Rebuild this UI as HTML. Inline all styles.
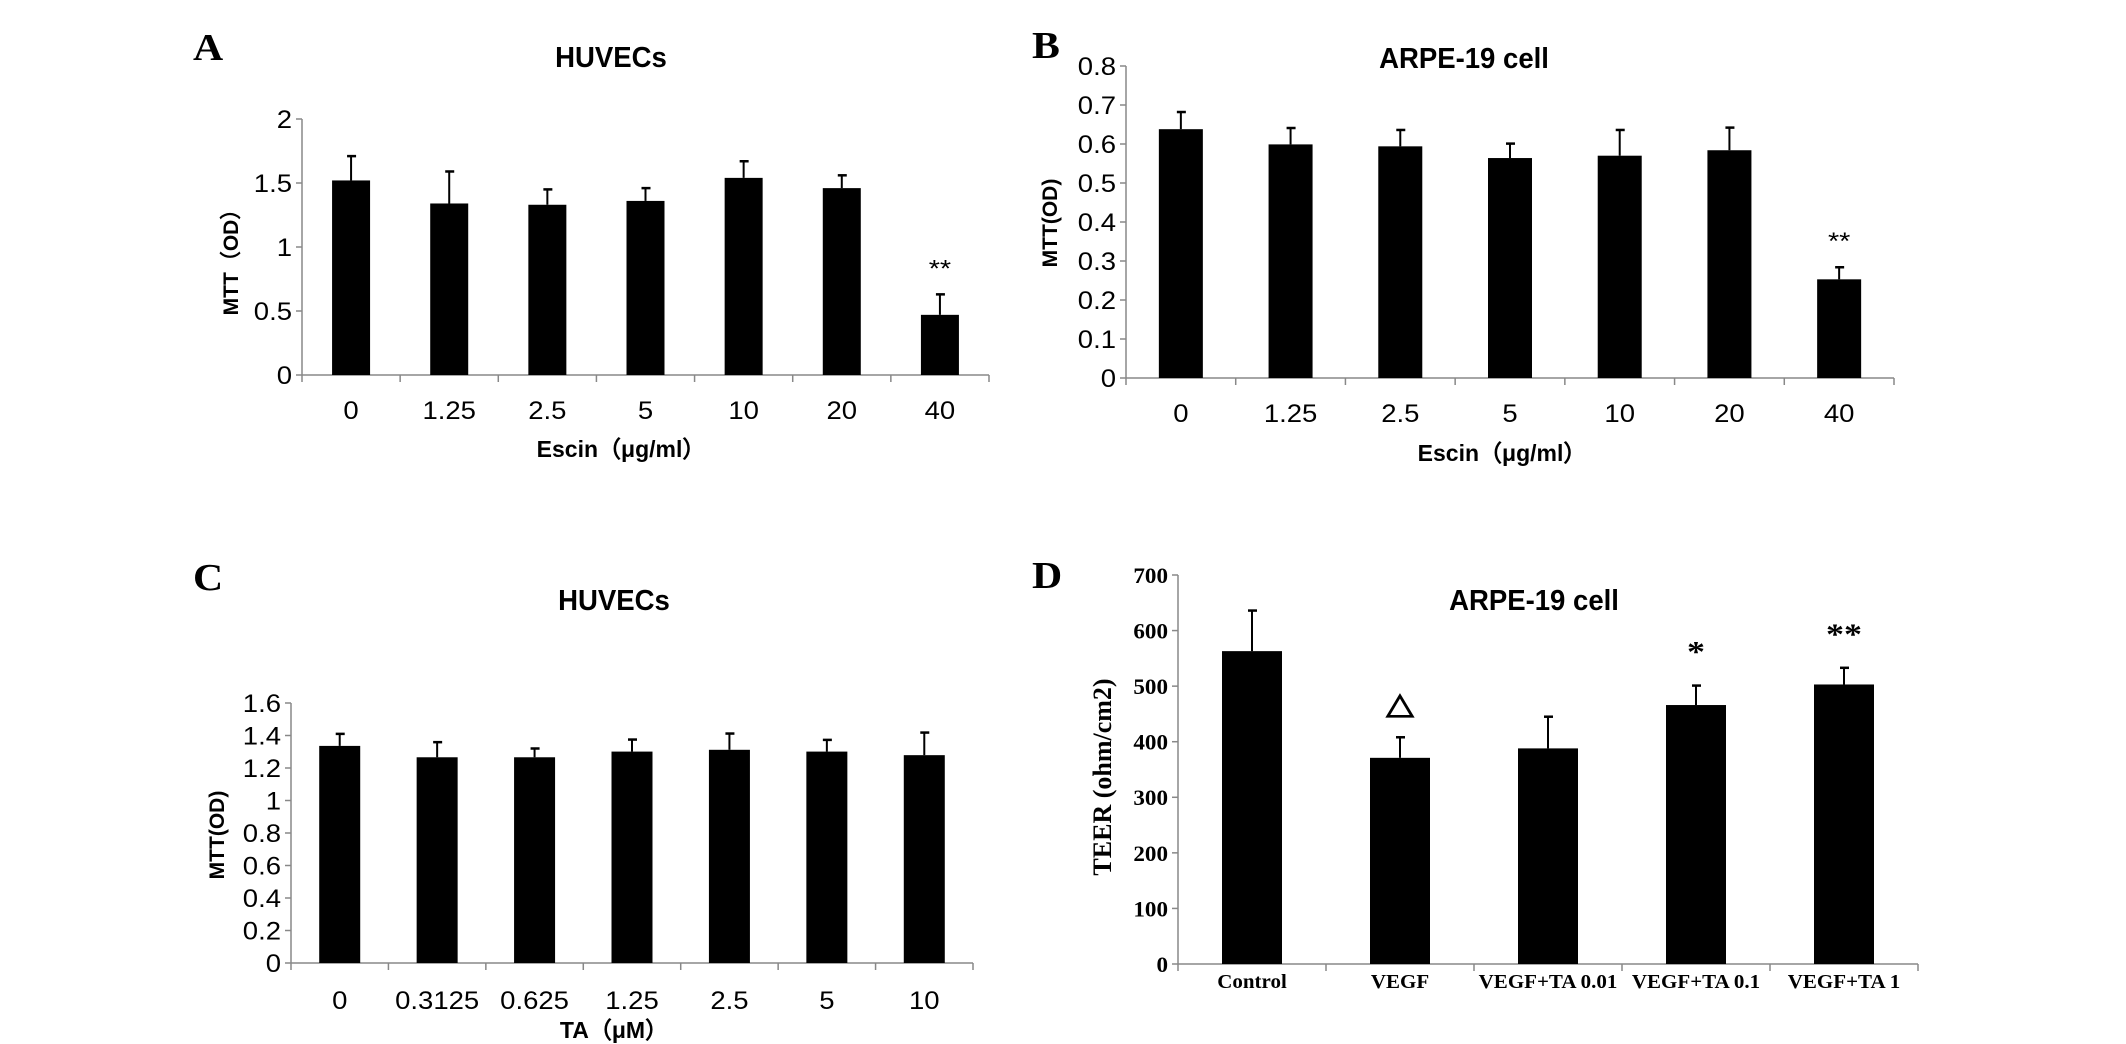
<!DOCTYPE html>
<html><head><meta charset="utf-8">
<style>
html,body{margin:0;padding:0;background:#fff;overflow:hidden;}
svg{display:block;}
.sans{font-family:"Liberation Sans",sans-serif;}
.serif{font-family:"Liberation Serif",serif;font-weight:bold;}
</style></head>
<body>
<svg id="fig" width="2126" height="1044" viewBox="0 0 2126 1044" xmlns="http://www.w3.org/2000/svg">
<rect width="2126" height="1044" fill="#fff"/>
<text x="0" y="0" transform="translate(193,60) scale(1.1,1)" class="serif" font-size="38">A</text>
<text x="0" y="0" transform="translate(1032,58) scale(1.1,1)" class="serif" font-size="38">B</text>
<text x="0" y="0" transform="translate(193,590) scale(1.1,1)" class="serif" font-size="38">C</text>
<text x="0" y="0" transform="translate(1032,588) scale(1.1,1)" class="serif" font-size="38">D</text>
</svg>
<script>
// Panel A
const catsA = ["0","1.25","2.5","5","10","20","40"];
const valsA = [1.52,1.34,1.33,1.36,1.54,1.46,0.47];
const errA  = [0.19,0.25,0.12,0.10,0.13,0.10,0.16];
const ticksA = [0,0.5,1,1.5,2];
const ticksAL = ["0","0.5","1","1.5","2"];
const marksA = ["","","","","","","**"];
// Panel B
const catsB = ["0","1.25","2.5","5","10","20","40"];
const valsB = [0.638,0.599,0.594,0.564,0.570,0.584,0.253];
const errB  = [0.044,0.042,0.042,0.037,0.066,0.058,0.031];
const ticksB = [0,0.1,0.2,0.3,0.4,0.5,0.6,0.7,0.8];
const ticksBL = ["0","0.1","0.2","0.3","0.4","0.5","0.6","0.7","0.8"];
const marksB = ["","","","","","","**"];
// Panel C
const catsC = ["0","0.3125","0.625","1.25","2.5","5","10"];
const valsC = [1.336,1.266,1.266,1.301,1.312,1.301,1.279];
const errC  = [0.074,0.093,0.054,0.074,0.100,0.072,0.139];
const ticksC = [0,0.2,0.4,0.6,0.8,1,1.2,1.4,1.6];
const ticksCL = ["0","0.2","0.4","0.6","0.8","1","1.2","1.4","1.6"];
const marksC = ["","","","","","",""];
// Panel D
const catsD = ["Control","VEGF","VEGF+TA 0.01","VEGF+TA 0.1","VEGF+TA 1"];
const valsD = [563,371,388,466,503];
const errD  = [73,37,57,35,30];
const ticksD = [0,100,200,300,400,500,600,700];
const ticksDL = ["0","100","200","300","400","500","600","700"];
const marksD = ["","\u25B3","","*","**"];

const NS="http://www.w3.org/2000/svg";
const svg=document.getElementById('fig');
function mk(tag,attrs,parent,txt){const e=document.createElementNS(NS,tag);for(const k in attrs)e.setAttribute(k,attrs[k]);if(txt!==undefined)e.textContent=txt;(parent||svg).appendChild(e);return e;}
function txt(parent,x,y,s,fs,anchor,cls,sx,bold){
  return mk('text',{x:0,y:0,transform:`translate(${x},${y}) scale(${sx},1)`,'text-anchor':anchor,'font-size':fs,class:cls,'font-weight':bold?'bold':'normal'},parent,s);
}

function chart(p,cats,vals,errs,ticks,tickL,marks){
  const g=mk('g',{});
  
  
  const y=v=>p.y0-(v-p.min)/(p.max-p.min)*(p.y0-p.y1);
  const cw=(p.x1-p.x0)/cats.length;
  const x=i=>p.x0+cw*(i+0.5);
  const cls=p.serif?'serif':'sans';
  const ya=mk('line',{x1:p.x0,y1:p.y1,x2:p.x0,y2:p.y0,stroke:'#888','stroke-width':1.5},g);
  
  
  ticks.forEach((t,i)=>{
    mk('line',{x1:p.x0-6,y1:y(t),x2:p.x0,y2:y(t),stroke:'#888','stroke-width':1.5},g);
    const tl=txt(g,p.x0-10,y(t)+p.tfs*0.36,tickL[i],p.tfs,'end',cls,p.sx,p.serif);
    
    
  });
  const xa=mk('line',{x1:p.x0,y1:p.y0,x2:p.x1,y2:p.y0,stroke:'#888','stroke-width':1.5},g);
  
  
  for(let i=0;i<=cats.length;i++){const xx=p.x0+cw*i;mk('line',{x1:xx,y1:p.y0,x2:xx,y2:p.y0+7,stroke:'#888','stroke-width':1.5},g);}
  cats.forEach((c,i)=>{
    const top=y(vals[i]), et=y(vals[i]+errs[i]);
    const eb=mk('line',{x1:x(i),y1:top,x2:x(i),y2:et,stroke:'#000','stroke-width':2},g);
    
    
    mk('line',{x1:x(i)-4,y1:et,x2:x(i)+5,y2:et,stroke:'#000','stroke-width':2.5},g);
    const b=mk('rect',{x:x(i)-p.bw/2,y:top,width:p.bw,height:p.y0-top,fill:'#000'},g);
    
    
    const xl=txt(g,x(i),p.xly,c,p.xfs,'middle',cls,p.sx,p.serif);
    
    
    if(marks[i]){
      const m=txt(g,x(i),et-p.mo,marks[i],p.mfs,'middle',cls,1.2,p.serif);
      
      
    }
  });
  const t=txt(g,p.tx,p.ty,p.title,p.ttfs,'middle','sans',0.95,true);
  
  
  if(p.xt){const xt=txt(g,p.xtx,p.xty,p.xt,p.xtfs,'middle','sans',1.0,true);
    
    }
  const yt=mk('text',{x:0,y:0,'text-anchor':'middle','font-size':p.ytfs,'font-weight':'bold',class:p.serif?'serif':'sans',transform:`translate(${p.ytx},${p.yty}) rotate(-90)`},g,p.yt);
  
  
}

chart({id:'chart-a-huvecs-escin',x0:302,x1:989,y0:375,y1:119,min:0,max:2,bw:38,tfs:25,xfs:25,sx:1.1,xly:419,mo:18,mfs:24,
  title:'HUVECs',tx:611,ty:67,ttfs:29,xt:'Escin（μg/ml）',xtx:621,xty:457,xtfs:23,yt:'MTT（OD）',ytx:238,yty:257,ytfs:21},
  catsA,valsA,errA,ticksA,ticksAL,marksA);
chart({id:'chart-b-arpe19-escin',x0:1126,x1:1894,y0:378,y1:66,min:0,max:0.8,bw:44,tfs:25,xfs:25,sx:1.1,xly:422,mo:18,mfs:24,
  title:'ARPE-19 cell',tx:1464,ty:68,ttfs:29,xt:'Escin（μg/ml）',xtx:1502,xty:461,xtfs:23,yt:'MTT(OD)',ytx:1057,yty:223,ytfs:21},
  catsB,valsB,errB,ticksB,ticksBL,marksB);
chart({id:'chart-c-huvecs-ta',x0:291,x1:973,y0:963,y1:703,min:0,max:1.6,bw:41,tfs:25,xfs:25,sx:1.1,xly:1009,mo:18,mfs:24,
  title:'HUVECs',tx:614,ty:610,ttfs:29,xt:'TA（μM）',xtx:614,xty:1038,xtfs:23,yt:'MTT(OD)',ytx:224,yty:835,ytfs:21},
  catsC,valsC,errC,ticksC,ticksCL,marksC);
chart({id:'chart-d-arpe19-teer',serif:true,x0:1178,x1:1918,y0:964,y1:575,min:0,max:700,bw:60,tfs:22,xfs:20,sx:1.05,xly:988,mo:24,mfs:30,
  title:'ARPE-19 cell',tx:1534,ty:610,ttfs:29,yt:'TEER (ohm/cm2)',ytx:1111,yty:777,ytfs:26},
  catsD,valsD,errD,ticksD,ticksDL,marksD);
</script>
</body></html>
